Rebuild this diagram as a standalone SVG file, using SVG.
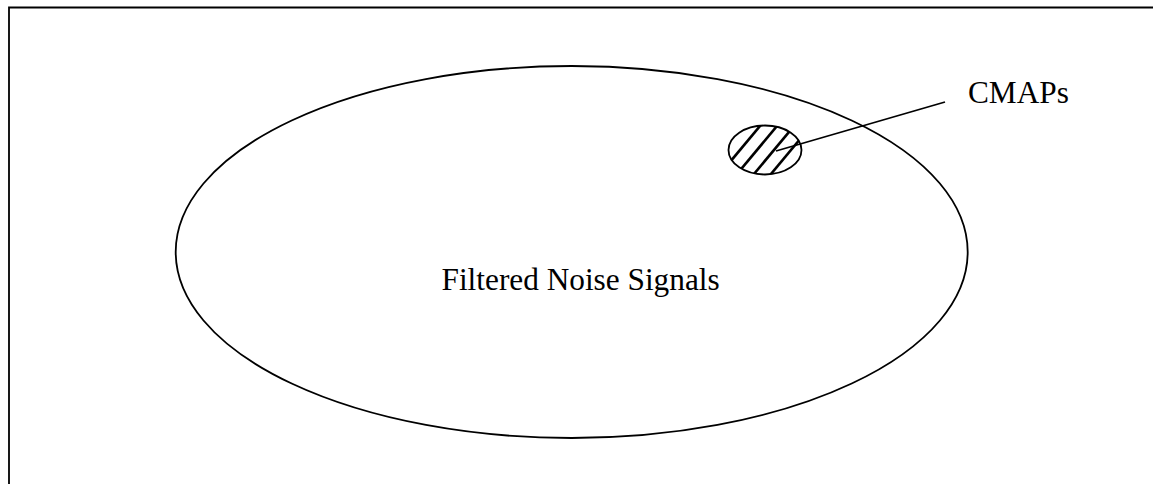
<svg xmlns="http://www.w3.org/2000/svg" width="1153" height="484" viewBox="0 0 1153 484">
<style>
.ln{fill:none;stroke:#000;stroke-width:1.8}
.hatch{stroke:#000;stroke-width:2.6}
.t{font-family:"Liberation Serif","Times New Roman",serif;fill:#000}
</style>
<defs>
<clipPath id="cmClip"><ellipse cx="765" cy="150" rx="36.5" ry="24.5"/></clipPath>
</defs>
<rect width="1153" height="484" fill="#fff"/>
<g id="frame"><path class="ln" d="M9,490 V7.5 H1160"/></g>
<g id="noise">
<ellipse class="ln" cx="571.7" cy="252" rx="396" ry="186"/>
<text class="t" x="441.5" y="290" font-size="31.3">Filtered Noise Signals</text>
</g>
<g id="cmaps">
<g clip-path="url(#cmClip)">
<line class="hatch" x1="700" y1="198" x2="780" y2="102"/>
<line class="hatch" x1="717" y1="198" x2="797" y2="102"/>
<line class="hatch" x1="734" y1="198" x2="814" y2="102"/>
<line class="hatch" x1="751" y1="198" x2="831" y2="102"/>
<line class="hatch" x1="768" y1="198" x2="848" y2="102"/>
</g>
<ellipse class="ln" cx="765" cy="150" rx="36.5" ry="24.5" stroke-width="2"/>
<text class="t" x="968" y="102.5" font-size="31.3">CMAPs</text>
</g>
<g id="connectors">
<line class="ln" x1="945" y1="102" x2="776" y2="151"/>
</g>
</svg>
